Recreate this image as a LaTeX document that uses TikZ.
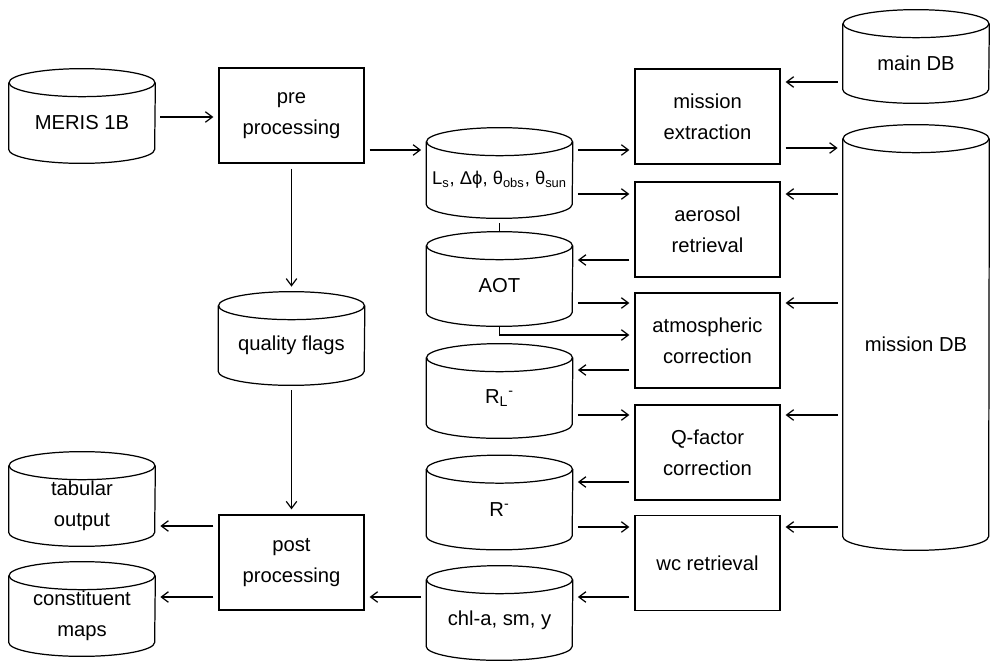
\documentclass[tikz,border=0pt]{standalone}
\usepackage{fontspec}
\setmainfont{Liberation Sans}
\usetikzlibrary{arrows.meta,calc}
\newcommand{\dbdraw}[1]{%
	\draw[line width=0.7pt] (#1.north west) -- ($(#1.south west)+(0,0.28)$) arc[start angle=180,end angle=360,x radius=1.46cm,y radius=0.28cm] -- (#1.north east);
	\draw[line width=0.7pt] (#1.north) ellipse[x radius=1.46cm,y radius=0.28cm];}
\newcommand{\rarr}[3]{\draw[arr] (#1.east |- 0,#3) -- (#2.west |- 0,#3);}
\newcommand{\larr}[3]{\draw[arr] (#1.west |- 0,#3) -- (#2.east |- 0,#3);}
\begin{document}
\begin{tikzpicture}[
	font=\fontsize{11.5}{17.5}\selectfont,
	proc/.style={draw,line width=0.7pt,minimum width=2.9cm,minimum height=1.9cm,align=center,inner sep=0pt},
	db/.style={minimum width=2.92cm,align=center,inner sep=0pt},
	arr/.style={line width=0.7pt,-{Straight Barb[length=4pt,width=6pt]},shorten <=0.1cm,shorten >=0.1cm}
	]
	\useasboundingbox (0,0) rectangle (20,-13.3);
	
	% left column
	\node[db,minimum height=1.6cm] (meris) at (1.64,-2.46) {MERIS 1B};
	\node[db,minimum height=1.6cm] (tab) at (1.64,-10.12) {tabular\\output};
	\node[db,minimum height=1.6cm] (con) at (1.64,-12.32) {constituent\\maps};
	
	% processing column
	\node[proc] (pre) at (5.83,-2.31) {pre\\processing};
	\node[db,minimum height=1.58cm] (qf) at (5.83,-6.91) {quality flags};
	\node[proc] (post) at (5.83,-11.25) {post\\processing};
	
	% data column
	\node[db,minimum height=1.52cm,font=\fontsize{10.5}{12}\selectfont] (ls) at (9.99,-3.60) {L\textsubscript{s}, Δϕ, θ\textsubscript{obs}, θ\textsubscript{sun}};
	\node[db,minimum height=1.6cm] (aot) at (9.99,-5.72) {AOT};
	\node[db,minimum height=1.6cm] (rl) at (9.99,-7.96) {R\textsubscript{L}\textsuperscript{-}};
	\node[db,minimum height=1.6cm] (r) at (9.99,-10.19) {R\textsuperscript{-}};
	\node[db,minimum height=1.6cm] (chl) at (9.99,-12.40) {chl-a, sm, y};
	
	% retrieval column
	\node[proc] (mext) at (14.15,-2.33) {mission\\extraction};
	\node[proc] (aer) at (14.15,-4.59) {aerosol\\retrieval};
	\node[proc] (atm) at (14.15,-6.81) {atmospheric\\correction};
	\node[proc] (q) at (14.15,-9.05) {Q-factor\\correction};
	\node[proc] (wc) at (14.15,-11.26) {wc retrieval};
	
	% databases
	\node[db,minimum height=1.58cm] (maindb) at (18.32,-1.27) {main DB};
	\node[db,minimum height=8.22cm] (mdb) at (18.32,-6.89) {mission DB};
	
	\foreach \n in {meris,tab,con,qf,ls,aot,rl,r,chl,maindb,mdb} {\dbdraw{\n}}
	
	% connectors
	\rarr{meris}{pre}{-2.34}
	\rarr{pre}{ls}{-3.0}
	\draw[arr] (pre.south) -- ([yshift=0.28cm]qf.north);
	\draw[arr] (qf.south) -- (post.north);
	\larr{post}{tab}{-10.52}
	\larr{post}{con}{-11.94}
	\larr{chl}{post}{-11.94}
	
	\rarr{ls}{mext}{-3.0}
	\rarr{ls}{aer}{-3.88}
	\draw[line width=0.7pt,shorten <=0.1cm] (ls.south) -- ([yshift=0.28cm]aot.north);
	\larr{aer}{aot}{-5.2}
	\rarr{aot}{atm}{-6.06}
	\draw[arr,shorten <=0pt] (aot.south) |- (atm.west |- 0,-6.7);
	\larr{atm}{rl}{-7.4}
	\rarr{rl}{q}{-8.3}
	\larr{q}{r}{-9.64}
	\rarr{r}{wc}{-10.54}
	\larr{wc}{chl}{-11.94}
	
	\larr{maindb}{mext}{-1.64}
	\rarr{mext}{mdb}{-2.96}
	\larr{mdb}{aer}{-3.88}
	\larr{mdb}{atm}{-6.06}
	\larr{mdb}{q}{-8.3}
	\larr{mdb}{wc}{-10.54}
\end{tikzpicture}
\end{document}
